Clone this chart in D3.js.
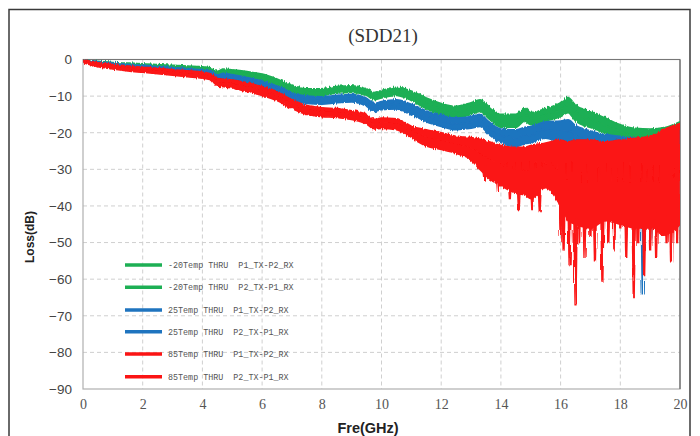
<!DOCTYPE html>
<html><head><meta charset="utf-8">
<script src="https://cdn.jsdelivr.net/npm/d3@7/dist/d3.min.js"></script>
<style>body{margin:0;background:#fff}</style>
</head><body><svg id="c" width="700" height="436"></svg>
<script>
// ---------- data ----------
const title = "(SDD21)";
const xLabel = "Fre(GHz)";
const yLabel = "Loss(dB)";
const xTicks = [0,2,4,6,8,10,12,14,16,18,20];
const yTicks = [0,-10,-20,-30,-40,-50,-60,-70,-80,-90];
const seriesNames = [
  "-20Temp THRU  P1_TX-P2_RX",
  "-20Temp THRU  P2_TX-P1_RX",
  "25Temp THRU  P1_TX-P2_RX",
  "25Temp THRU  P2_TX-P1_RX",
  "85Temp THRU  P1_TX-P2_RX",
  "85Temp THRU  P2_TX-P1_RX"
];
const freq = [0,0.5,1,1.5,2,2.5,3,3.5,4,4.3,4.5,4.7,5,5.5,6,6.5,7,7.5,8,8.5,9,9.5,9.75,10,10.5,11,11.5,12,12.5,13,13.3,13.6,14,14.5,14.8,15,15.5,16,16.25,16.5,17,17.5,18,18.5,19,19.5,20];

// -20 Temp : upper envelope / boundary between the two traces / lower envelope (dB)
const cold_hi  = [0,-0.5,-0.8,-1.0,-1.2,-1.4,-1.6,-1.8,-2.0,-2.3,-3.2,-2.6,-2.8,-3.3,-4.0,-5.3,-7.0,-8.0,-8.0,-7.4,-7.2,-8.0,-9.0,-8.5,-7.6,-8.6,-10.5,-12.0,-12.8,-11.8,-11.0,-12.8,-15.0,-15.0,-13.2,-14.5,-13.4,-11.8,-10.4,-12.5,-14.2,-16.0,-17.8,-18.8,-19.0,-18.6,-17.0];
const cold_mid = [-0.3,-0.9,-1.3,-1.5,-1.7,-1.95,-2.2,-2.4,-2.65,-2.95,-4.1,-3.25,-3.5,-4.05,-4.8,-6.15,-7.9,-8.9,-8.9,-8.3,-8.1,-8.9,-10.0,-9.5,-8.7,-9.9,-11.95,-13.5,-14.4,-13.4,-12.6,-14.5,-16.75,-16.75,-15.0,-16.15,-15.1,-13.7,-12.45,-14.65,-16.4,-18.0,-19.65,-20.65,-20.8,-20.3,-18.8];
const cold_lo  = [-0.6,-1.3,-1.8,-2.0,-2.2,-2.5,-2.8,-3.0,-3.3,-3.6,-5.0,-3.9,-4.2,-4.8,-5.6,-7.0,-8.8,-9.8,-9.8,-9.2,-9.0,-9.8,-11.0,-10.5,-9.8,-11.2,-13.4,-15.0,-16.0,-15.0,-14.2,-16.2,-18.5,-18.5,-16.8,-17.8,-16.8,-15.6,-14.5,-16.8,-18.6,-20.0,-21.5,-22.5,-22.6,-22.0,-20.6];

// 25 Temp
const room_hi  = [0,-0.6,-1.0,-1.3,-1.6,-1.9,-2.2,-2.5,-2.8,-3.1,-4.2,-3.8,-4.1,-4.9,-5.9,-7.2,-9.0,-10.0,-10.2,-9.8,-9.6,-10.6,-12.0,-11.5,-11.0,-12.2,-14.0,-15.2,-16.0,-15.6,-15.0,-17.0,-19.0,-19.2,-18.5,-18.3,-17.0,-16.8,-16.5,-18.0,-19.5,-20.5,-21.0,-21.5,-21.5,-21.0,-19.5];
const room_mid = [-0.3,-1.05,-1.5,-1.85,-2.15,-2.45,-2.8,-3.1,-3.45,-3.75,-5.0,-4.55,-4.9,-5.75,-6.75,-8.1,-10.0,-11.0,-11.2,-10.8,-10.6,-11.7,-13.1,-12.6,-12.25,-13.6,-15.5,-16.75,-17.6,-17.2,-16.65,-18.75,-20.85,-21.5,-20.75,-20.5,-19.25,-19.65,-19.5,-20.9,-22.05,-23.0,-23.75,-24.5,-24.75,-24.5,-23.25];
const room_lo  = [-0.6,-1.5,-2.0,-2.4,-2.7,-3.0,-3.4,-3.7,-4.1,-4.4,-5.8,-5.3,-5.7,-6.6,-7.6,-9.0,-11.0,-12.0,-12.2,-11.8,-11.6,-12.8,-14.2,-13.7,-13.5,-15.0,-17.0,-18.3,-19.2,-18.8,-18.3,-20.5,-22.7,-23.8,-23.0,-22.7,-21.5,-22.5,-22.5,-23.8,-24.6,-25.5,-26.5,-27.5,-28.0,-28.0,-27.0];

// 85 Temp
const hot_hi   = [0,-0.9,-1.4,-1.8,-2.1,-2.4,-2.8,-3.1,-3.5,-4.0,-5.2,-5.4,-5.6,-6.4,-7.4,-8.8,-11.0,-12.6,-13.2,-13.4,-14.0,-15.0,-16.4,-16.0,-16.2,-18.2,-19.2,-20.0,-21.0,-21.3,-21.8,-22.5,-23.5,-24.0,-24.0,-23.5,-22.8,-22.0,-22.5,-22.0,-22.0,-22.5,-22.0,-21.5,-21.0,-19.0,-17.5];
const hot_mid  = [-0.4,-1.45,-2.0,-2.45,-2.8,-3.15,-3.55,-3.9,-4.3,-4.8,-6.2,-6.4,-6.7,-7.6,-8.6,-10.0,-12.2,-13.8,-14.4,-14.6,-15.2,-16.3,-17.7,-17.4,-17.7,-19.8,-21.4,-22.3,-23.3,-24.4,-25.9,-27.5,-29.0,-30.25,-30.5,-30.75,-28.9,-31.0,-33.25,-33.5,-34.0,-33.25,-33.5,-33.75,-33.5,-33.5,-31.25];
const hot_lo   = [-0.8,-2.0,-2.6,-3.1,-3.5,-3.9,-4.3,-4.7,-5.1,-5.6,-7.2,-7.4,-7.8,-8.8,-9.8,-11.2,-13.4,-15.0,-15.6,-15.8,-16.4,-17.6,-19.0,-18.8,-19.2,-21.4,-23.6,-24.6,-25.6,-27.5,-30.0,-32.5,-34.5,-36.5,-37.0,-38.0,-35.0,-40.0,-44.0,-45.0,-46.0,-44.0,-45.0,-46.0,-46.0,-48.0,-45.0];

// deep resonance dips (GHz, dB)
const hotDipF  = [13.45,13.9,14.3,14.6,15.05,15.3,15.6,16.0,16.1,16.3,16.5,16.62,16.8,17.0,17.15,17.4,17.6,17.8,18.0,18.2,18.45,18.6,18.8,19.0,19.2,19.4,19.55,19.7,19.9];
const hotDipDb = [-33,-36,-38,-41,-41,-41.5,-34,-48,-52,-56,-67,-50,-54,-48,-55,-60.5,-50,-52,-46,-54,-65,-50,-59,-52,-54,-48,-50,-55,-50];
const roomDipF  = [18.2,18.75,19.0,19.6];
const roomDipDb = [-44,-64,-49,-45];

const colors = ["#1daf54","#1daf54","#1f74bf","#1f74bf","#fb1414","#fb1414"];

// ---------- drawing ----------
const svg = d3.select("#c");
const x = d3.scaleLinear().domain([0,20]).range([83,680]);
const y = d3.scaleLinear().domain([-90,0]).range([389,59.5]);

const defs = svg.append("defs");
defs.append("clipPath").attr("id","plotClip").append("rect")
  .attr("x",x(0)).attr("y",y(0)).attr("width",x(20)-x(0)).attr("height",y(-90)-y(0));
const f1 = defs.append("filter").attr("id","rough")
  .attr("x","-2%").attr("y","-10%").attr("width","104%").attr("height","120%");
f1.append("feTurbulence").attr("type","fractalNoise").attr("baseFrequency","0.9 0.04")
  .attr("numOctaves",1).attr("seed",3).attr("result","n");
f1.append("feDisplacementMap").attr("in","SourceGraphic").attr("in2","n")
  .attr("scale",4).attr("xChannelSelector","R").attr("yChannelSelector","G");

// outer frame
svg.append("rect").attr("x",9).attr("y",9.5).attr("width",681).attr("height",440)
  .attr("fill","none").attr("stroke","#3a3a3a").attr("stroke-width",1.5);

// title
svg.append("text").attr("x",383).attr("y",42).attr("text-anchor","middle")
  .attr("font-family","'Liberation Serif','DejaVu Serif',serif").attr("font-size",19)
  .attr("fill","#333").text(title);

// grid
const grid = svg.append("g");
grid.selectAll("line.gx").data(xTicks.slice(1,-1)).join("line")
  .attr("x1",d=>x(d)).attr("x2",d=>x(d)).attr("y1",y(0)).attr("y2",y(-90))
  .attr("stroke","#cfcfcf").attr("stroke-dasharray","4,3");
grid.selectAll("line.gy").data(yTicks.slice(1,-1)).join("line")
  .attr("x1",x(0)).attr("x2",x(20)).attr("y1",d=>y(d)).attr("y2",d=>y(d))
  .attr("stroke","#cfcfcf").attr("stroke-dasharray","4,3");

// plot border
svg.append("rect").attr("x",x(0)).attr("y",y(0)).attr("width",x(20)-x(0)).attr("height",y(-90)-y(0))
  .attr("fill","none").attr("stroke","#b0b0b0").attr("stroke-width",1.2);
svg.append("line").attr("x1",x(0)).attr("x2",x(20)).attr("y1",y(0)).attr("y2",y(0))
  .attr("stroke","#777").attr("stroke-width",1.2);
svg.append("line").attr("x1",x(20)).attr("x2",x(20)).attr("y1",y(0)).attr("y2",y(-90))
  .attr("stroke","#666").attr("stroke-width",1.2);

// axes
const ya = svg.append("g").attr("transform",`translate(${x(0)},0)`)
  .call(d3.axisLeft(y).tickValues(yTicks).tickSize(0).tickPadding(11).tickFormat(d=>d===0?"0":"\u2212"+Math.abs(d)));
ya.select(".domain").remove();
ya.selectAll("text").attr("font-family","'Liberation Sans',Arial,sans-serif").attr("font-size",13.5).attr("fill","#444");

const xa = svg.append("g").attr("transform",`translate(0,${y(-90)})`)
  .call(d3.axisBottom(x).tickValues(xTicks).tickSize(0).tickPadding(10));
xa.select(".domain").remove();
xa.selectAll("text").attr("font-family","'Liberation Serif','DejaVu Serif',serif").attr("font-size",14).attr("fill","#555");

svg.append("text").attr("x",368).attr("y",433).attr("text-anchor","middle")
  .attr("font-family","'Liberation Sans',Arial,sans-serif").attr("font-weight","bold").attr("font-size",14.5)
  .attr("fill","#222").text(xLabel);
svg.append("text").attr("transform","translate(34,237) rotate(-90)").attr("text-anchor","middle")
  .attr("font-family","'Liberation Sans',Arial,sans-serif").attr("font-weight","bold").attr("font-size",12)
  .attr("fill","#222").text(yLabel);

// traces: each trace is a noisy band between two envelopes
const traces = [
  {top:cold_hi, bot:cold_mid}, {top:cold_mid, bot:cold_lo},
  {top:room_hi, bot:room_mid}, {top:room_mid, bot:room_lo},
  {top:hot_hi,  bot:hot_mid},  {top:hot_mid,  bot:hot_lo}
];
const area = (t)=>d3.area().x((d,i)=>x(freq[i])).y0((d,i)=>y(t.bot[i])).y1((d,i)=>y(t.top[i])).curve(d3.curveMonotoneX)(freq);

const plot = svg.append("g").attr("clip-path","url(#plotClip)");
const dipPath = (f,db,anchor)=>d3.line()([[x(f-0.08),y(anchor)],[x(f-0.015),y(db)],[x(f+0.015),y(db)],[x(f+0.08),y(anchor)]]);

traces.forEach((t,i)=>{
  const g = plot.append("g").attr("filter","url(#rough)");
  g.append("path").attr("d",area(t)).attr("fill",colors[i])
    .attr("stroke",colors[i]).attr("stroke-width",1.6).attr("stroke-linejoin","round");
  if(i===3){
    g.selectAll("path.dip").data(roomDipF).join("path").attr("class","dip")
      .attr("d",(f,k)=>dipPath(f,roomDipDb[k],-26)).attr("fill",colors[i]).attr("stroke",colors[i]).attr("stroke-width",1.4);
  }
  if(i===5){
    g.selectAll("path.dip").data(hotDipF).join("path").attr("class","dip")
      .attr("d",(f,k)=>dipPath(f,hotDipDb[k],-28)).attr("fill",colors[i]).attr("stroke",colors[i]).attr("stroke-width",1.4);
  }
});

// legend
const lg = svg.append("g");
const rowY = [265,287.3,310,331.7,354,376.7];
seriesNames.forEach((n,i)=>{
  lg.append("line").attr("x1",125).attr("x2",162).attr("y1",rowY[i]).attr("y2",rowY[i])
    .attr("stroke",colors[i]).attr("stroke-width",3.5);
  lg.append("text").attr("x",168).attr("y",rowY[i]).attr("dy","0.35em")
    .attr("font-family","'Liberation Mono','DejaVu Sans Mono',monospace").attr("font-size",8.4)
    .attr("fill","#555").attr("xml:space","preserve").style("white-space","pre").text(n);
});
</script></body></html>
